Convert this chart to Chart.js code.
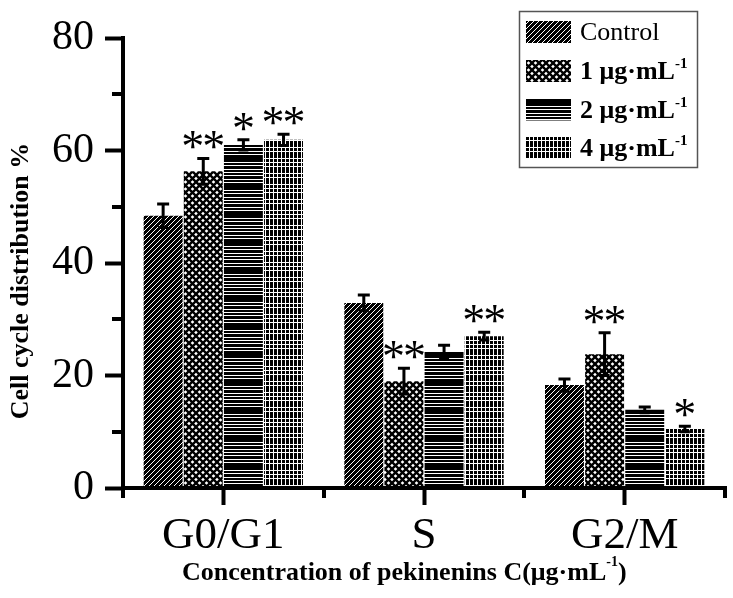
<!DOCTYPE html>
<html>
<head>
<meta charset="utf-8">
<script src="https://cdn.jsdelivr.net/npm/chart.js@4.4.1/dist/chart.umd.min.js"></script>
<style>
    html, body { margin: 0; padding: 0; background: #fff; }
    #wrap { width: 733px; height: 598px; }
</style>
</head>
<body>
<div id="wrap"><canvas id="cellCanvas"></canvas></div>
<script>
// data
const phases = ['G0/G1', 'S', 'G2/M']
const doseNames = ['Control', '1 μg·mL', '2 μg·mL', '4 μg·mL']
const doseSup = ['', '-1', '-1', '-1']

const controlValues = [48.4, 32.9, 18.3]
const dose1Values = [56.3, 19.0, 23.8]
const dose2Values = [61.0, 24.2, 13.9]
const dose4Values = [61.9, 27.0, 10.5]

const controlErr = [2.1, 1.4, 1.1]
const dose1Err = [2.3, 2.3, 3.8]
const dose2Err = [0.9, 1.2, 0.5]
const dose4Err = [1.0, 0.7, 0.5]

const controlSig = ['', '', '']
const dose1Sig = ['**', '**', '**']
const dose2Sig = ['*', '', '']
const dose4Sig = ['**', '**', '*']

const yMajorTicks = [0, 20, 40, 60, 80]
const yMinorTicks = [10, 30, 50, 70]

const serif = '"Liberation Serif", "Times New Roman", serif'

function makePattern(kind) {
    const c = document.createElement('canvas')
    const g = c.getContext('2d')
    if (kind === 'diag') {
        c.width = 5; c.height = 5
        g.fillStyle = '#000'; g.fillRect(0, 0, 5, 5)
        g.strokeStyle = '#fff'; g.lineWidth = 1
        g.beginPath()
        g.moveTo(-1, 6); g.lineTo(6, -1)
        g.stroke()
    } else if (kind === 'cross') {
        c.width = 7; c.height = 7
        g.fillStyle = '#fff'; g.fillRect(0, 0, 7, 7)
        g.strokeStyle = '#000'; g.lineWidth = 2.4
        g.beginPath()
        g.moveTo(-1, -1); g.lineTo(8, 8)
        g.moveTo(-1, 8); g.lineTo(8, -1)
        g.stroke()
    } else if (kind === 'horiz') {
        c.width = 4; c.height = 28
        g.fillStyle = '#000'; g.fillRect(0, 0, 4, 28)
        g.fillStyle = '#fff'
        ;[1, 4, 7, 11, 14, 22, 25].forEach(r => g.fillRect(0, r, 4, 1))
    } else {
        c.width = 8; c.height = 26
        g.fillStyle = '#000'; g.fillRect(0, 0, 8, 26)
        g.fillStyle = '#fff'
        g.fillRect(1, 0, 1, 26)
        g.fillRect(5, 0, 1, 26)
        ;[2, 6, 10, 17, 21].forEach(r => g.fillRect(0, r, 8, 1))
    }
    return g.createPattern(c, 'repeat')
}

const fills = [makePattern('diag'), makePattern('cross'), makePattern('horiz'), makePattern('grid')]
const seriesValues = [controlValues, dose1Values, dose2Values, dose4Values]
const seriesErr = [controlErr, dose1Err, dose2Err, dose4Err]
const seriesSig = [controlSig, dose1Sig, dose2Sig, dose4Sig]

const extrasPlugin = {
    id: 'extras',
    afterDatasetsDraw(chart) {
        const ctx = chart.ctx
        const xs = chart.scales.x
        const ys = chart.scales.y
        const area = chart.chartArea
        ctx.save()

        // axis line again on top of the bars
        ctx.fillStyle = '#000'
        ctx.fillRect(area.left - 2, area.bottom - 2, area.right - area.left + 4, 4)

        // minor ticks
        yMinorTicks.forEach(v => {
            const py = Math.round(ys.getPixelForValue(v))
            ctx.fillRect(area.left - 11, py - 2, 11, 4)
        })
        for (let i = 0; i <= phases.length; i++) {
            const px = Math.round(xs.getPixelForValue(i - 0.5))
            ctx.fillRect(px - 2, area.bottom, 4, 10)
        }

        // error bars
        ctx.strokeStyle = '#000'
        ctx.lineWidth = 3
        seriesValues.forEach((vals, i) => {
            const meta = chart.getDatasetMeta(i)
            meta.data.forEach((bar, j) => {
                const hi = ys.getPixelForValue(vals[j] + seriesErr[i][j])
                const lo = ys.getPixelForValue(vals[j] - seriesErr[i][j])
                ctx.beginPath()
                ctx.moveTo(bar.x, hi); ctx.lineTo(bar.x, lo)
                ctx.moveTo(bar.x - 6, hi); ctx.lineTo(bar.x + 6, hi)
                ctx.moveTo(bar.x - 5, lo); ctx.lineTo(bar.x + 5, lo)
                ctx.stroke()

                const sig = seriesSig[i][j]
                if (sig) {
                    ctx.font = '46px ' + serif
                    ctx.textAlign = 'center'
                    ctx.textBaseline = 'alphabetic'
                    const m = ctx.measureText('*')
                    const base = hi - 9 - m.actualBoundingBoxDescent
                    const n = sig.length
                    for (let k = 0; k < n; k++) {
                        ctx.fillText('*', bar.x + (k - (n - 1) / 2) * 21, base)
                    }
                }
            })
        })

        // axis titles
        ctx.fillStyle = '#000'
        ctx.textAlign = 'left'
        ctx.textBaseline = 'alphabetic'
        ctx.font = 'bold 26px ' + serif
        const mainX = 'Concentration of pekinenins C(μg·mL'
        let tx = 182
        ctx.fillText(mainX, tx, 580)
        tx += ctx.measureText(mainX).width
        ctx.font = 'bold 14px ' + serif
        ctx.fillText('-1', tx, 566)
        tx += ctx.measureText('-1').width
        ctx.font = 'bold 26px ' + serif
        ctx.fillText(')', tx, 580)

        ctx.save()
        ctx.translate(28, 281)
        ctx.rotate(-Math.PI / 2)
        ctx.textAlign = 'center'
        ctx.font = 'bold 26px ' + serif
        ctx.fillText('Cell cycle distribution %', 0, 0)
        ctx.restore()

        // legend
        ctx.strokeStyle = '#555'
        ctx.lineWidth = 1.5
        ctx.strokeRect(519.5, 11.5, 178, 156)
        const rows = [32, 71, 109.5, 148]
        doseNames.forEach((name, i) => {
            const cy = rows[i]
            ctx.fillStyle = fills[i]
            ctx.fillRect(526, cy - 11, 45, 22)
            ctx.fillStyle = '#000'
            ctx.font = (i === 0 ? '' : 'bold ') + '26px ' + serif
            ctx.fillText(name, 580, cy + 8)
            if (doseSup[i]) {
                const w = ctx.measureText(name).width
                ctx.font = 'bold 15px ' + serif
                ctx.fillText(doseSup[i], 580 + w, cy - 3)
            }
        })
        ctx.restore()
    }
}

const config = {
    type: 'bar',
    data: {
        labels: phases,
        datasets: seriesValues.map((vals, i) => ({
            label: doseNames[i],
            data: vals,
            backgroundColor: fills[i],
            borderWidth: 0,
            categoryPercentage: 0.8,
            barPercentage: 0.97
        }))
    },
    options: {
        responsive: true,
        maintainAspectRatio: false,
        animation: false,
        devicePixelRatio: 1,
        layout: {
            padding: { left: 0, top: 38, right: 8, bottom: 0 }
        },
        plugins: {
            legend: { display: false },
            tooltip: { enabled: false }
        },
        scales: {
            x: {
                offset: true,
                grid: {
                    offset: false,
                    drawOnChartArea: false,
                    tickLength: 17,
                    tickWidth: 4,
                    tickColor: '#000'
                },
                border: { color: '#000', width: 4 },
                ticks: {
                    color: '#000',
                    maxRotation: 0,
                    padding: 4,
                    font: { family: serif, size: 45 }
                },
                afterFit(scale) { scale.height = 110 }
            },
            y: {
                min: 0,
                max: 80,
                afterBuildTicks(scale) {
                    scale.ticks = yMajorTicks.map(v => ({ value: v }))
                },
                grid: {
                    drawOnChartArea: false,
                    tickLength: 18,
                    tickWidth: 4,
                    tickColor: '#000'
                },
                border: { color: '#000', width: 4 },
                ticks: {
                    color: '#000',
                    padding: 11,
                    font: { family: serif, size: 42 }
                },
                afterFit(scale) { scale.width = 123 }
            }
        }
    },
    plugins: [extrasPlugin]
}

new Chart(document.querySelector('#cellCanvas'), config)
</script>
</body>
</html>
